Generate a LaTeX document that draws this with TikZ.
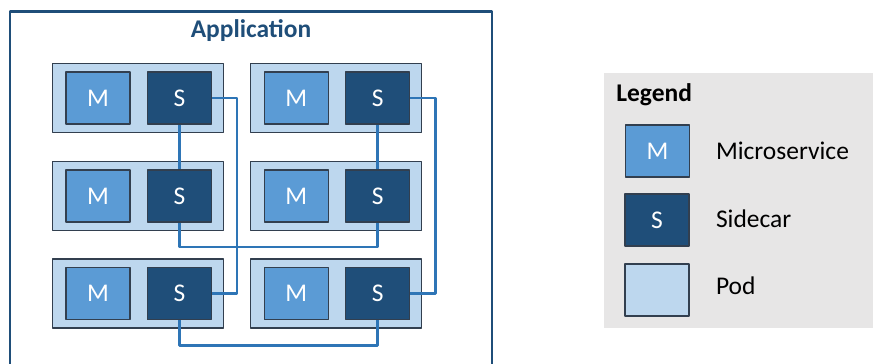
\documentclass[tikz,border=0pt]{standalone}
\usepackage{fontspec}
\setmainfont{Carlito}
\definecolor{appblue}{HTML}{1F4E79}
\definecolor{msblue}{HTML}{5B9BD5}
\definecolor{podblue}{HTML}{BDD7EE}
\definecolor{linkblue}{HTML}{2E75B6}
\definecolor{edgegray}{HTML}{323F4F}
\definecolor{legendgray}{HTML}{E7E6E6}
\tikzset{
  pod/.style={draw=edgegray,fill=podblue,line width=0.6pt,minimum width=3.42cm,minimum height=1.38cm,inner sep=0pt},
  svc/.style={draw=edgegray,line width=0.6pt,minimum width=1.28cm,minimum height=1.04cm,inner sep=0pt,text=white,font=\fontsize{14.5}{17}\selectfont},
  micro/.style={svc,fill=msblue},
  side/.style={svc,fill=appblue},
  link/.style={color=linkblue,line width=1.3pt},
  lbl/.style={anchor=west,inner sep=0pt,font=\fontsize{14.5}{17}\selectfont}
}
\begin{document}
\begin{tikzpicture}[x=0.02cm,y=-0.02cm, line join=round]
	\clip (0,0) rectangle (873,363);
	% application frame
	\draw[appblue,line width=1.7pt] (10,11.5) rectangle (492,380);
	\node[text=appblue,font=\fontsize{14.5}{17}\selectfont\bfseries] (app) at (251,31) {Application};
	% pods
	\foreach \r/\y in {1/98,2/196,3/293.5}{
		\foreach \c/\x in {1/138,2/336.2}{
			\node[pod] (p\r\c) at (\x,\y) {};
			\node[micro] (m\r\c) at (\x-40,\y) {M};
			\node[side] (s\r\c) at (\x+41.4,\y) {S};
		}
	}
	% sidecar links
	\draw[link] (s11.east) -- ++(25,0) |- (s31.east);
	\draw[link] (s12.east) -- ++(25.3,0) |- (s32.east);
	\draw[link] (s11) -- (s21);
	\draw[link] (s12) -- (s22);
	\draw[link] (s21.south) -- ++(0,24.5) -| (s22.south);
	\draw[link] (s31.south) -- ++(0,25.5) -| (s32.south);
	% legend
	\fill[legendgray] (604,72.7) rectangle (873,328.3);
	\node[lbl,font=\fontsize{14.5}{17}\selectfont\bfseries] (legend) at (616,95) {Legend};
	\node[micro] (lm) at (657.5,151) {M};
	\node[side] (ls) at (657,220) {S};
	\node[pod,minimum width=1.28cm,minimum height=1.04cm] (lp) at (657,290) {};
	\node[lbl] (lmt) at (715.7,151) {Microservice};
	\node[lbl] (lst) at (715.7,219) {Sidecar};
	\node[lbl] (lpt) at (715.7,286) {Pod};
\end{tikzpicture}
\end{document}
